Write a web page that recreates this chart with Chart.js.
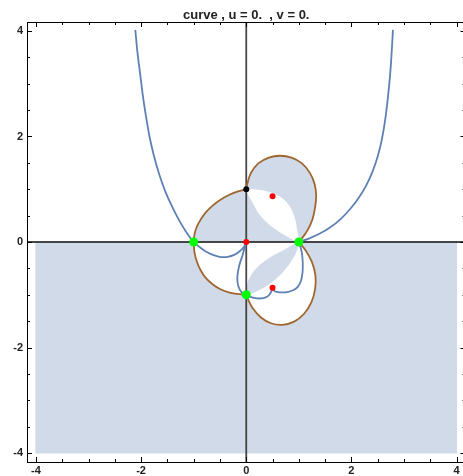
<!DOCTYPE html>
<html>
<head>
<meta charset="utf-8">
<script src="https://cdn.jsdelivr.net/npm/chart.js@4.4.1/dist/chart.umd.min.js"></script>
<style>
html, body { margin: 0; padding: 0; overflow: hidden; background: #fff; }
#chart { position: absolute; left: 0; top: 0; }
</style>
</head>
<body>
<canvas id="chart" width="470" height="476"></canvas>
<script>
'use strict'

const title = 'curve , u = 0.  , v = 0.';
const xTickLabels = [-4, -2, 0, 2, 4];
const yTickLabels = [-4, -2, 0, 2, 4];

// brown boundary, in four pieces
const brownUpperLeft = [[-1, 0], [-0.985, 0.14], [-0.945, 0.28], [-0.87, 0.42], [-0.77, 0.56], [-0.64, 0.69],
    [-0.49, 0.80], [-0.33, 0.89], [-0.17, 0.955], [0, 1]];
const brownUpperRight = [[0, 1], [0.02, 1.10], [0.09, 1.31], [0.23, 1.49], [0.43, 1.60], [0.64, 1.635],
    [0.86, 1.60], [1.06, 1.49], [1.21, 1.31], [1.30, 1.10], [1.33, 0.88], [1.31, 0.66], [1.26, 0.43],
    [1.17, 0.23], [1.06, 0.07], [1, 0]];
const brownLowerRight = [[1, 0], [1.13, -0.16], [1.25, -0.38], [1.315, -0.63], [1.31, -0.89], [1.24, -1.14],
    [1.10, -1.36], [0.91, -1.51], [0.69, -1.57], [0.47, -1.54], [0.28, -1.43], [0.12, -1.25], [0.03, -1.08], [0, -1]];
const brownLowerLeft = [[0, -1], [-0.17, -0.985], [-0.35, -0.95], [-0.50, -0.89], [-0.64, -0.80],
    [-0.77, -0.68], [-0.87, -0.53], [-0.94, -0.37], [-0.985, -0.19], [-1, 0]];

// blue curve, split at its cusps and corner points
const blueLeft = [[-2.11, 4.02], [-2.07, 3.6], [-2.02, 3.2], [-1.97, 2.8], [-1.91, 2.4], [-1.84, 2.0],
    [-1.76, 1.65], [-1.66, 1.3], [-1.54, 0.96], [-1.41, 0.67], [-1.27, 0.40], [-1.13, 0.17], [-1.0, 0],
    [-0.88, -0.10], [-0.76, -0.185], [-0.62, -0.25], [-0.48, -0.285], [-0.35, -0.28], [-0.23, -0.245],
    [-0.13, -0.18], [-0.05, -0.10], [0, 0]];
const blueMiddle = [[0, 0], [-0.03, -0.10], [-0.07, -0.25], [-0.12, -0.40], [-0.155, -0.55], [-0.17, -0.70],
    [-0.15, -0.84], [-0.09, -0.95], [0, -1], [0.08, -1.04], [0.17, -1.065], [0.28, -1.07], [0.37, -1.05],
    [0.44, -1.0], [0.48, -0.93], [0.5, -0.866]];
const blueLoop = [[0.5, -0.866], [0.53, -0.92], [0.58, -0.945], [0.69, -0.955], [0.80, -0.945], [0.90, -0.91],
    [0.98, -0.85], [1.04, -0.74], [1.07, -0.58], [1.075, -0.40], [1.06, -0.22], [1.03, -0.09], [1.0, 0]];
const blueRight = [[1.0, 0], [1.2, 0.07], [1.4, 0.16], [1.6, 0.28], [1.8, 0.44], [1.98, 0.63], [2.14, 0.84],
    [2.28, 1.07], [2.40, 1.33], [2.50, 1.62], [2.58, 1.95], [2.64, 2.3], [2.69, 2.7], [2.73, 3.1],
    [2.76, 3.5], [2.79, 4.02]];

// shaded region pieces
const lowerHalf = [[-4, 0], [4, 0], [4, -4], [-4, -4], [-4, 0]];
const upperLune = [[0, 1], [0.15, 0.99], [0.34, 0.965], [0.59, 0.88], [0.78, 0.73], [0.91, 0.47], [0.97, 0.16],
    [1, 0], [0.91, 0.04], [0.66, 0.18], [0.40, 0.37], [0.24, 0.55], [0.11, 0.78], [0.03, 0.92], [0, 1]];
const lowerLune = [[0, -1], [0.02, -0.85], [0.06, -0.70], [0.18, -0.52], [0.34, -0.38], [0.52, -0.26],
    [0.72, -0.16], [0.88, -0.06], [1, 0], [0.97, -0.12], [0.91, -0.26], [0.78, -0.46], [0.59, -0.67],
    [0.38, -0.83], [0.15, -0.95], [0, -1]];

const greenPts = [[-1, 0], [1, 0], [0, -1]];
const redPts = [[0, 0], [0.5, 0.866], [0.5, -0.866]];
const blackPts = [[0, 1]];

const xAxisLine = [[-4.2, 0], [4.2, 0]];
const yAxisLine = [[0, -4.2], [0, 4.2]];

const shade = 'rgb(208,218,233)';
const blue = '#5e81b5';
const brown = '#a0662f';

const xy = pts => pts.map(([x, y]) => ({x: x, y: y}));

function area(pts, color, order, tension) {
    return {
        data: xy(pts), order: order, fill: 'shape', backgroundColor: color,
        borderColor: color, borderWidth: 1, pointRadius: 0, tension: tension
    };
}
function curve(pts, color, order, tension) {
    return {
        data: xy(pts), order: order, fill: false, borderColor: color,
        borderWidth: 1.8, pointRadius: 0, tension: tension
    };
}
function dots(pts, color, r, order) {
    return {
        data: xy(pts), order: order, showLine: false, pointRadius: r,
        pointBackgroundColor: color, pointBorderWidth: 0, pointBorderColor: color
    };
}

const upperInside = brownUpperLeft.concat(brownUpperRight.slice(1));
const lowerInside = brownLowerLeft.slice().reverse().concat(brownLowerRight.slice().reverse().slice(1));

const framePlugin = {
    id: 'frame',
    afterDraw(chart) {
        const {ctx, chartArea: a, scales: {x, y}} = chart;
        ctx.save();
        ctx.strokeStyle = '#000';
        ctx.lineWidth = 1;
        ctx.strokeRect(a.left + 0.5, a.top + 0.5, a.right - a.left, a.bottom - a.top);
        ctx.beginPath();
        for (let i = -8; i <= 8; i++) {
            const v = i / 2;
            const len = (i % 4 === 0) ? 5 : 3;
            const px = Math.round(x.getPixelForValue(v)) + 0.5;
            ctx.moveTo(px, a.bottom); ctx.lineTo(px, a.bottom - len);
            ctx.moveTo(px, a.top); ctx.lineTo(px, a.top + len);
            const py = Math.round(y.getPixelForValue(v)) + 0.5;
            ctx.moveTo(a.left, py); ctx.lineTo(a.left + len, py);
            ctx.moveTo(a.right, py); ctx.lineTo(a.right - len, py);
        }
        ctx.stroke();
        ctx.fillStyle = '#222';
        ctx.font = 'bold 11px "Liberation Sans", Arial, sans-serif';
        ctx.textAlign = 'center';
        ctx.textBaseline = 'top';
        xTickLabels.forEach(v => ctx.fillText(String(v), x.getPixelForValue(v), a.bottom + 3));
        ctx.textAlign = 'right';
        ctx.textBaseline = 'middle';
        yTickLabels.forEach(v => ctx.fillText(String(v), a.left - 4, y.getPixelForValue(v)));
        ctx.textAlign = 'center';
        ctx.textBaseline = 'alphabetic';
        ctx.font = 'bold 13px "Liberation Sans", Arial, sans-serif';
        ctx.fillText(title, x.getPixelForValue(0), 19);
        ctx.restore();
    }
};

new Chart(document.getElementById('chart'), {
    type: 'line',
    data: {
        datasets: [
            area(lowerHalf, shade, 20, 0),
            area(lowerInside, '#fff', 19, 0.3),
            area(upperInside, shade, 18, 0.3),
            area(upperLune, '#fff', 17, 0.35),
            area(lowerLune, shade, 16, 0.35),
            curve(xAxisLine, 'rgba(40,40,40,0.85)', 15, 0),
            curve(yAxisLine, 'rgba(40,40,40,0.85)', 15, 0),
            curve(brownUpperLeft, brown, 10, 0.4),
            curve(brownUpperRight, brown, 10, 0.4),
            curve(brownLowerRight, brown, 10, 0.4),
            curve(brownLowerLeft, brown, 10, 0.4),
            curve(blueLeft, blue, 5, 0.4),
            curve(blueMiddle, blue, 5, 0.4),
            curve(blueLoop, blue, 5, 0.4),
            curve(blueRight, blue, 5, 0.4),
            dots(greenPts, '#00ff00', 4.5, 1),
            dots(redPts, '#ff0000', 3, 1),
            dots(blackPts, '#000', 3, 1)
        ]
    },
    options: {
        responsive: false,
        animation: false,
        layout: {padding: {left: 27, right: 3, top: 22, bottom: 14}},
        plugins: {legend: {display: false}, tooltip: {enabled: false}, title: {display: false}},
        elements: {line: {capBezierPoints: false}},
        scales: {
            x: {type: 'linear', min: -4.17, max: 4.17, display: false},
            y: {type: 'linear', min: -4.17, max: 4.17, display: false}
        }
    },
    plugins: [framePlugin]
});
</script>
</body>
</html>
